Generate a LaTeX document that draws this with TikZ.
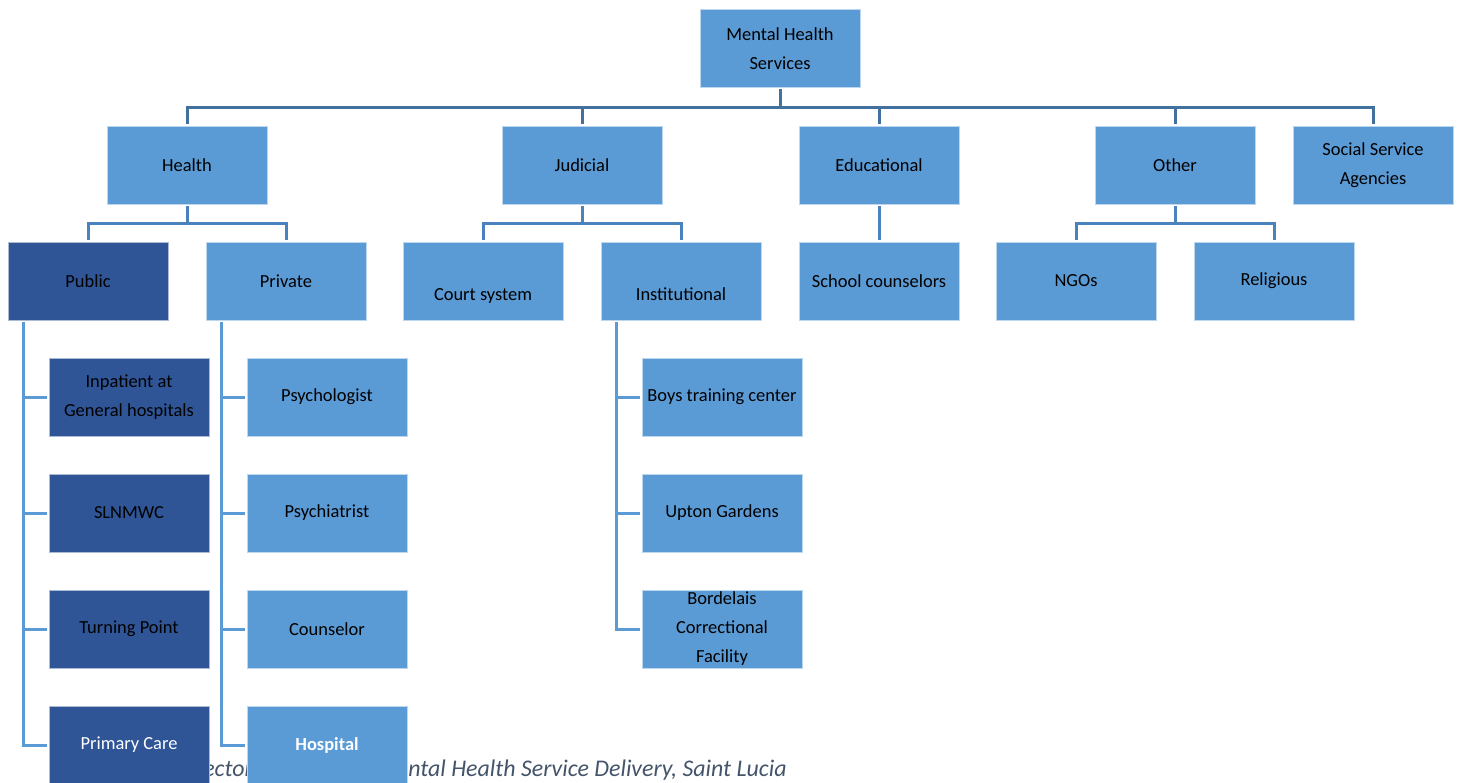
\documentclass[tikz,border=0pt]{standalone}
\usepackage{fontspec}
\setmainfont{Carlito}
\definecolor{boxblue}{HTML}{5B9BD5}
\definecolor{boxnavy}{HTML}{2F5597}
\definecolor{linetop}{HTML}{41719C}
\definecolor{linemid}{HTML}{4A82BE}
\definecolor{captiongrey}{HTML}{44546A}
\begin{document}
\begin{tikzpicture} [x=0.02cm, y=-0.02cm,
 box/.style={rectangle, minimum width=3.2cm, minimum height=1.56cm, inner sep=0pt, outer sep=0.04cm, thin, draw=white!60!boxblue, fill=boxblue, align=center, font=\fontsize{10.5}{16.5}\selectfont},
 navy/.style={box, draw=white!60!boxnavy, fill=boxnavy},
 lowtext/.style={text height=25pt, text depth=3pt},
 bus/.style={draw=linetop, line width=0.06cm},
 branch/.style={draw=linemid, line width=0.06cm},
 side/.style={draw=boxblue, line width=0.06cm},
]
    \useasboundingbox (0,0) rectangle (1460,782);
    % caption, partly covered by the last row
    \node[anchor=base east, inner sep=0pt, text=captiongrey, font=\fontsize{13.6}{16}\selectfont\itshape] (caption) at (787,776) {Sectors Involved in Mental Health Service Delivery, Saint Lucia};

    \node[box] (mhs) at (780,48.5) {Mental Health\\Services};

    % sectors
    \node[box] (health) at (187,165) {Health};
    \node[box] (judicial) at (582,165) {Judicial};
    \node[box] (educ) at (879,165) {Educational};
    \node[box] (other) at (1175,165) {Other};
    \node[box] (social) at (1373,165) {Social Service\\Agencies};

    \node[navy] (public) at (88,281) {Public};
    \node[box] (private) at (286,281) {Private};
    \node[box, lowtext] (court) at (483,281) {Court system};
    \node[box, lowtext] (institutional) at (681,281) {Institutional};
    \node[box] (school) at (879,281) {School counselors};
    \node[box] (ngos) at (1076,281) {NGOs};
    \node[box] (religious) at (1274,281) {Religious};

    % public services
    \node[navy] (inpatient) at (129,397) {Inpatient at\\General hospitals};
    \node[navy] (slnmwc) at (129,513) {SLNMWC};
    \node[navy] (turning) at (129,629) {Turning Point};
    \node[navy, text=white] (primary) at (129,745) {Primary Care};

    % private services
    \node[box] (psychologist) at (327,397) {Psychologist};
    \node[box] (psychiatrist) at (327,513) {Psychiatrist};
    \node[box] (counselor) at (327,629) {Counselor};
    \node[box, text=white] (hospital) at (327,745) {\bfseries Hospital};

    % institutions
    \node[box] (boys) at (722,397) {Boys training center};
    \node[box] (upton) at (722,513) {Upton Gardens};
    \node[box] (bordelais) at (722,629) {Bordelais\\Correctional\\Facility};

    % connectors
    \coordinate (topjoin) at (780,107);
    \draw[bus] (mhs.south) -- (topjoin);
    \foreach \c in {health,judicial,educ,other,social}
        \draw[bus] (topjoin) -| (\c.north);

    \coordinate (healthjoin) at (187,223);
    \draw[branch] (health.south) -- (healthjoin);
    \foreach \c in {public,private}
        \draw[branch] (healthjoin) -| (\c.north);

    \coordinate (judicialjoin) at (582,223);
    \draw[branch] (judicial.south) -- (judicialjoin);
    \foreach \c in {court,institutional}
        \draw[branch] (judicialjoin) -| (\c.north);

    \draw[branch] (educ.south) -- (school.north);

    \coordinate (otherjoin) at (1175,223);
    \draw[branch] (other.south) -- (otherjoin);
    \foreach \c in {ngos,religious}
        \draw[branch] (otherjoin) -| (\c.north);

    \coordinate (publictrunk) at ([xshift=0.35cm]public.south west);
    \foreach \c in {inpatient,slnmwc,turning,primary}
        \draw[side] (publictrunk) |- (\c.west);

    \coordinate (privatetrunk) at ([xshift=0.35cm]private.south west);
    \foreach \c in {psychologist,psychiatrist,counselor,hospital}
        \draw[side] (privatetrunk) |- (\c.west);

    \coordinate (institutionaltrunk) at ([xshift=0.35cm]institutional.south west);
    \foreach \c in {boys,upton,bordelais}
        \draw[side] (institutionaltrunk) |- (\c.west);
\end{tikzpicture}
\end{document}
